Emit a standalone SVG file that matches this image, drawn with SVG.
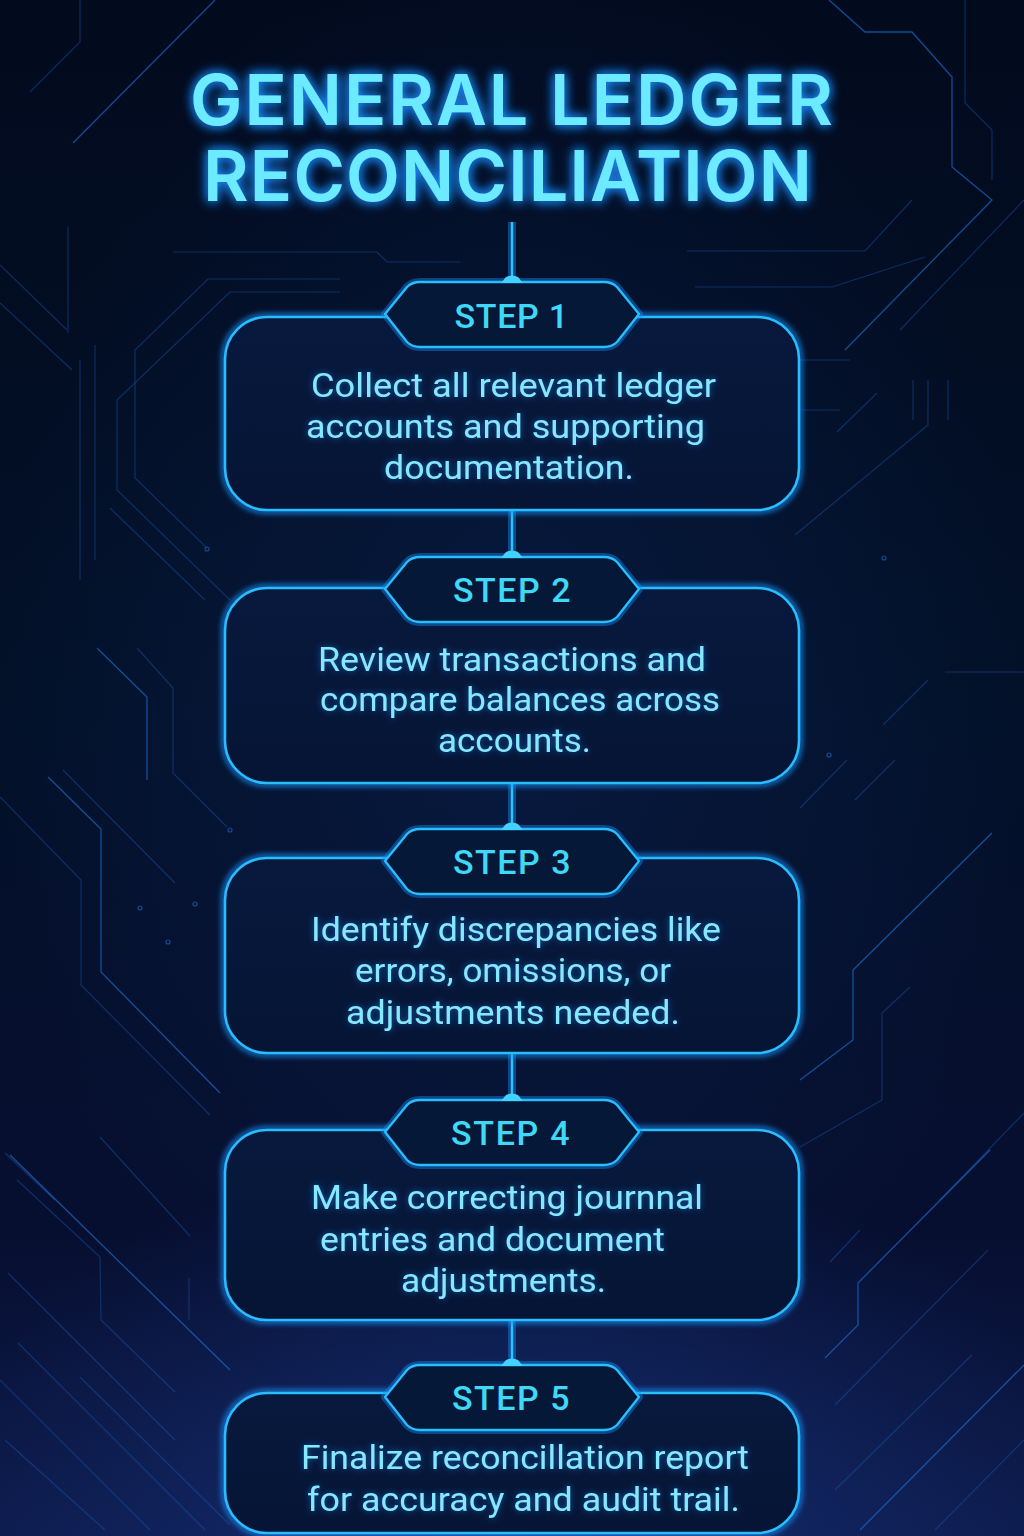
<svg xmlns="http://www.w3.org/2000/svg" width="1024" height="1536" viewBox="0 0 1024 1536">
<defs>
<linearGradient id="bg" x1="0" y1="0" x2="0" y2="1">
<stop offset="0" stop-color="#020a1d"/>
<stop offset="0.45" stop-color="#031129"/>
<stop offset="0.8" stop-color="#070f30"/>
<stop offset="1" stop-color="#0d1a4a"/>
</linearGradient>
<radialGradient id="centerGlow" cx="0.5" cy="0.45" r="0.5">
<stop offset="0" stop-color="#0a2150" stop-opacity="0.55"/>
<stop offset="1" stop-color="#0a2150" stop-opacity="0"/>
</radialGradient>
<radialGradient id="bottomGlow" cx="0.5" cy="1" r="0.6">
<stop offset="0" stop-color="#1a3c8e" stop-opacity="0.55"/>
<stop offset="1" stop-color="#1a3c8e" stop-opacity="0"/>
</radialGradient>
<linearGradient id="boxFill" x1="0" y1="0" x2="0" y2="1">
<stop offset="0" stop-color="#07193d"/>
<stop offset="1" stop-color="#061535"/>
</linearGradient>
<filter id="titleGlow" x="-10%" y="-30%" width="120%" height="160%">
<feGaussianBlur in="SourceAlpha" stdDeviation="6" result="a"/>
<feFlood flood-color="#1e8cff" flood-opacity="0.9"/>
<feComposite in2="a" operator="in" result="g"/>
<feMerge><feMergeNode in="g"/><feMergeNode in="g"/><feMergeNode in="SourceGraphic"/></feMerge>
</filter>
<filter id="textGlow" x="-10%" y="-30%" width="120%" height="160%">
<feGaussianBlur in="SourceAlpha" stdDeviation="3" result="a"/>
<feFlood flood-color="#1a8cff" flood-opacity="0.6"/>
<feComposite in2="a" operator="in" result="g"/>
<feMerge><feMergeNode in="g"/><feMergeNode in="SourceGraphic"/></feMerge>
</filter>
<filter id="soft" x="-20%" y="-20%" width="140%" height="140%">
<feGaussianBlur stdDeviation="2"/>
</filter>
<path id="hex" d="M385,0 L407,-27 Q412,-32 420,-32 L604,-32 Q612,-32 617,-27 L639,0 L617,28 Q612,33 604,33 L420,33 Q412,33 407,28 Z"/>
<path id="dome" d="M501,0 L506,-6 Q512,-9 518,-6 L523,0 Z"/>
<style>
.trace{fill:none;stroke:#1a5bb5;stroke-width:1.2;stroke-opacity:0.42}
.trace2{fill:none;stroke:#1d6fd6;stroke-width:1.3;stroke-opacity:0.65}
.dot{fill:none;stroke:#1d6fd6;stroke-width:1.2;stroke-opacity:0.6}
.box{fill:url(#boxFill);stroke:#27bdff;stroke-width:2.6}
.boxglow{fill:none;stroke:#1593ff;stroke-width:10;stroke-opacity:0.5}
.hexs{fill:#061838;stroke:#27bdff;stroke-width:2.4;stroke-linejoin:round}
.hexglow{fill:none;stroke:#1593ff;stroke-width:8;stroke-opacity:0.4;stroke-linejoin:round}
.step{font-family:Roboto,"Liberation Sans",sans-serif;font-weight:500;font-size:34px;fill:#3fd8f6;text-anchor:middle;letter-spacing:1.5px}
.body{font-family:Roboto,"Liberation Sans",sans-serif;font-weight:400;font-size:34px;fill:#86e8fc;text-anchor:middle}
.title{font-family:Inter,"Liberation Sans",sans-serif;font-weight:600;font-size:70px;fill:#6ceaff;text-anchor:middle}
.conn{stroke:#2ac2ff;stroke-width:2.4;fill:none}
.connglow{stroke:#1593ff;stroke-width:8;stroke-opacity:0.4;fill:none}
.domef{fill:#43d2ff}
</style>
</defs>

<rect width="1024" height="1536" fill="url(#bg)"/>
<rect width="1024" height="1536" fill="url(#centerGlow)"/>
<rect y="900" width="1024" height="636" fill="url(#bottomGlow)"/>

<g id="background-traces">
<path class="trace2" d="M215,0 L73,143"/>
<path class="trace" d="M80,0 L80,42 L30,92"/>
<path class="trace" d="M0,265 L67,330"/>
<path class="trace" d="M68,227 L68,333"/>
<path class="trace" d="M0,303 L72,370"/>
<path class="trace" d="M173,252 L377,252 L387,262 L460,262"/>
<path class="trace" d="M340,279 L208,279 L135,350 L135,478 L207,548"/>
<circle class="dot" cx="207" cy="549" r="2"/>
<path class="trace" d="M340,292 L230,292 L117,400 L117,490 L230,600"/>
<path class="trace" d="M80,360 L80,580"/>
<path class="trace" d="M95,345 L95,560"/>
<path class="trace" d="M110,508 L205,600"/>
<path class="trace2" d="M97,648 L147,697 L147,780"/>
<path class="trace" d="M137,648 L173,688 L173,773 L227,827"/>
<circle class="dot" cx="230" cy="830" r="2"/>
<path class="trace2" d="M48,777 L101,829 L101,972 L220,1093"/>
<path class="trace" d="M0,797 L81,880 L81,985 L210,1115"/>
<path class="trace" d="M63,770 L175,883"/>
<circle class="dot" cx="140" cy="908" r="2"/>
<circle class="dot" cx="168" cy="942" r="2"/>
<circle class="dot" cx="195" cy="904" r="2"/>
<path class="trace" d="M5,1153 L55,1200"/>
<path class="trace" d="M100,1137 L190,1236"/>
<path class="trace2" d="M10,1155 L230,1370"/>
<path class="trace" d="M17,1180 L100,1257 L101,1320 L175,1392"/>
<path class="trace" d="M8,1273 L175,1440"/>
<path class="trace" d="M18,1343 L205,1530"/>
<path class="trace" d="M0,1380 L150,1530"/>
<path class="trace" d="M80,1377 L230,1525"/>
<path class="trace" d="M5,1440 L105,1530"/>
<path class="trace" d="M189,1278 L189,1320"/>

<path class="trace2" d="M829,0 L865,32 L912,32 L952,77 L952,167 L992,200 L845,350"/>
<path class="trace" d="M965,0 L965,103 L992,130 L992,180"/>
<path class="trace" d="M1024,200 L900,330"/>
<path class="trace" d="M687,251 L865,251 L912,200"/>
<path class="trace" d="M695,287 L832,287 L925,257"/>
<path class="trace" d="M800,360 L850,360"/>
<path class="trace" d="M800,410 L840,410"/>
<path class="trace" d="M913,380 L913,420"/>
<path class="trace" d="M928,380 L928,425 L795,535"/>
<path class="trace" d="M948,380 L948,420"/>
<path class="trace" d="M877,393 L837,432"/>
<circle class="dot" cx="884" cy="558" r="2"/>
<path class="trace" d="M928,680 L883,725"/>
<circle class="dot" cx="829" cy="755" r="2"/>
<path class="trace" d="M945,672 L1024,672"/>
<path class="trace" d="M847,760 L800,808"/>
<path class="trace" d="M895,760 L855,800"/>
<path class="trace2" d="M992,833 L853,970 L853,1040 L800,1080"/>
<path class="trace" d="M910,987 L882,1013 L882,1100 L800,1147"/>
<path class="trace" d="M1024,1113 L940,1200"/>
<path class="trace2" d="M990,1150 L858,1283 L858,1325 L825,1358"/>
<path class="trace" d="M988,1250 L835,1405"/>
<path class="trace" d="M972,1355 L835,1490"/>
<path class="trace2" d="M1024,1365 L860,1530"/>
<path class="trace" d="M1024,1440 L935,1530"/>
<path class="trace" d="M860,1230 L830,1262"/>
</g>

<g id="title" filter="url(#titleGlow)">
<text class="title" x="511.5" y="125" textLength="643" lengthAdjust="spacing">GENERAL LEDGER</text>
<text class="title" x="507.5" y="201" textLength="609" lengthAdjust="spacing">RECONCILIATION</text>
</g>

<g id="connectors">
<path class="connglow" d="M512,222 V282 M512,510 V557 M512,783 V829 M512,1053 V1100 M512,1320 V1365"/>
<path class="conn" d="M512,222 V282 M512,510 V557 M512,783 V829 M512,1053 V1100 M512,1320 V1365"/>
</g>

<g id="step1">
<rect class="boxglow" x="225" y="317" width="574" height="193" rx="42" filter="url(#soft)"/>
<rect class="box" x="225" y="317" width="574" height="193" rx="42"/>
<use href="#hex" class="hexglow" transform="translate(0,314)"/>
<use href="#hex" class="hexs" transform="translate(0,314)"/>
<use href="#dome" class="domef" transform="translate(0,283)"/>
<text class="step" x="512" y="328" textLength="115">STEP 1</text>
<g filter="url(#textGlow)">
<text class="body" x="513.5" y="397" textLength="405" lengthAdjust="spacingAndGlyphs">Collect all relevant ledger</text>
<text class="body" x="505.5" y="438" textLength="399" lengthAdjust="spacingAndGlyphs">accounts and supporting</text>
<text class="body" x="509" y="479" textLength="250" lengthAdjust="spacingAndGlyphs">documentation.</text>
</g>
</g>

<g id="step2">
<rect class="boxglow" x="225" y="588" width="574" height="195" rx="42" filter="url(#soft)"/>
<rect class="box" x="225" y="588" width="574" height="195" rx="42"/>
<use href="#hex" class="hexglow" transform="translate(0,589)"/>
<use href="#hex" class="hexs" transform="translate(0,589)"/>
<use href="#dome" class="domef" transform="translate(0,558)"/>
<text class="step" x="512.5" y="602" textLength="119">STEP 2</text>
<g filter="url(#textGlow)">
<text class="body" x="512" y="671" textLength="388" lengthAdjust="spacingAndGlyphs">Review transactions and</text>
<text class="body" x="520" y="711" textLength="400" lengthAdjust="spacingAndGlyphs">compare balances across</text>
<text class="body" x="514.5" y="752" textLength="153" lengthAdjust="spacingAndGlyphs">accounts.</text>
</g>
</g>

<g id="step3">
<rect class="boxglow" x="225" y="858" width="574" height="195" rx="42" filter="url(#soft)"/>
<rect class="box" x="225" y="858" width="574" height="195" rx="42"/>
<use href="#hex" class="hexglow" transform="translate(0,861)"/>
<use href="#hex" class="hexs" transform="translate(0,861)"/>
<use href="#dome" class="domef" transform="translate(0,830)"/>
<text class="step" x="512.5" y="874" textLength="119">STEP 3</text>
<g filter="url(#textGlow)">
<text class="body" x="516" y="941" textLength="410" lengthAdjust="spacingAndGlyphs">Identify discrepancies like</text>
<text class="body" x="513" y="982" textLength="316" lengthAdjust="spacingAndGlyphs">errors, omissions, or</text>
<text class="body" x="513" y="1024" textLength="334" lengthAdjust="spacingAndGlyphs">adjustments needed.</text>
</g>
</g>

<g id="step4">
<rect class="boxglow" x="225" y="1130" width="574" height="190" rx="42" filter="url(#soft)"/>
<rect class="box" x="225" y="1130" width="574" height="190" rx="42"/>
<use href="#hex" class="hexglow" transform="translate(0,1132)"/>
<use href="#hex" class="hexs" transform="translate(0,1132)"/>
<use href="#dome" class="domef" transform="translate(0,1101)"/>
<text class="step" x="511" y="1145" textLength="120">STEP 4</text>
<g filter="url(#textGlow)">
<text class="body" x="507" y="1209" textLength="392" lengthAdjust="spacingAndGlyphs">Make correcting journnal</text>
<text class="body" x="492.5" y="1251" textLength="345" lengthAdjust="spacingAndGlyphs">entries and document</text>
<text class="body" x="503.5" y="1292" textLength="205" lengthAdjust="spacingAndGlyphs">adjustments.</text>
</g>
</g>

<g id="step5">
<rect class="boxglow" x="225" y="1393" width="574" height="140" rx="42" filter="url(#soft)"/>
<rect class="box" x="225" y="1393" width="574" height="140" rx="42"/>
<use href="#hex" class="hexglow" transform="translate(0,1397)"/>
<use href="#hex" class="hexs" transform="translate(0,1397)"/>
<use href="#dome" class="domef" transform="translate(0,1366)"/>
<text class="step" x="511.5" y="1410" textLength="119">STEP 5</text>
<g filter="url(#textGlow)">
<text class="body" x="525" y="1469" textLength="448" lengthAdjust="spacingAndGlyphs">Finalize reconcillation report</text>
<text class="body" x="523.5" y="1511" textLength="433" lengthAdjust="spacingAndGlyphs">for accuracy and audit trail.</text>
</g>
</g>
</svg>
